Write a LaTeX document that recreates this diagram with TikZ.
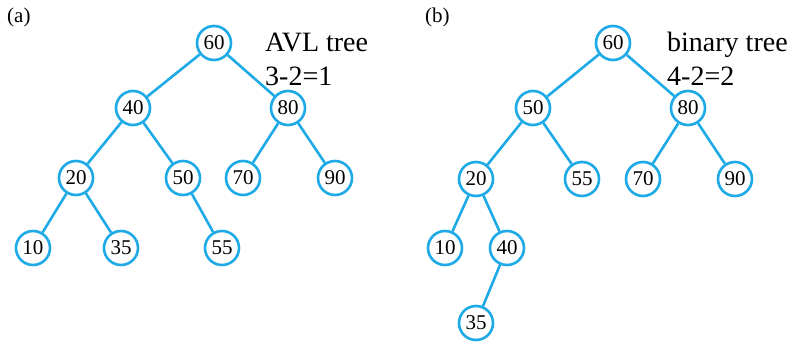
\documentclass[tikz,border=0pt]{standalone}
\usepackage{fontspec}
\setmainfont{Liberation Serif}
\definecolor{treeblue}{RGB}{30,170,230}
\begin{document}
\begin{tikzpicture}[x=1pt,y=-1pt,
  tn/.style={circle,draw=treeblue,line width=2.6pt,fill=white,minimum size=34pt,inner sep=0pt,font=\fontsize{21}{23}\selectfont},
  edge/.style={draw=treeblue,line width=2.6pt},
  lbl/.style={anchor=base west,inner sep=0pt,font=\fontsize{28}{30}\selectfont},
  tag/.style={anchor=base west,inner sep=0pt,font=\fontsize{21}{23}\selectfont}]
\useasboundingbox (0,0) rectangle (796,345);
% tree (a)
\node[tn] (a60) at (214,43) {60};
\node[tn] (a40) at (133,108) {40};
\node[tn] (a80) at (288,108) {80};
\node[tn] (a20) at (76,178) {20};
\node[tn] (a50) at (183,178) {50};
\node[tn] (a70) at (243,178) {70};
\node[tn] (a90) at (335,178) {90};
\node[tn] (a10) at (33,248) {10};
\node[tn] (a35) at (121,248) {35};
\node[tn] (a55) at (222,248) {55};
\foreach \p/\c in {a60/a40,a60/a80,a40/a20,a40/a50,a80/a70,a80/a90,a20/a10,a20/a35,a50/a55}
  \draw[edge] (\p) -- (\c);
\node[tag] (ta) at (7,23) {(a)};
\node[lbl] (avl) at (265,52) {AVL tree};
\node[lbl] (avlh) at (265,85) {3-2=1};
% tree (b)
\node[tn] (b60) at (613,43) {60};
\node[tn] (b50) at (533,108) {50};
\node[tn] (b80) at (688,108) {80};
\node[tn] (b20) at (476,179) {20};
\node[tn] (b55) at (582,179) {55};
\node[tn] (b70) at (643,179) {70};
\node[tn] (b90) at (735,179) {90};
\node[tn] (b10) at (445,248) {10};
\node[tn] (b40) at (507,248) {40};
\node[tn] (b35) at (476,323) {35};
\foreach \p/\c in {b60/b50,b60/b80,b50/b20,b50/b55,b80/b70,b80/b90,b20/b10,b20/b40,b40/b35}
  \draw[edge] (\p) -- (\c);
\node[tag] (tb) at (425,23) {(b)};
\node[lbl] (bin) at (667,52) {binary tree};
\node[lbl] (binh) at (667,85) {4-2=2};
\end{tikzpicture}
\end{document}
